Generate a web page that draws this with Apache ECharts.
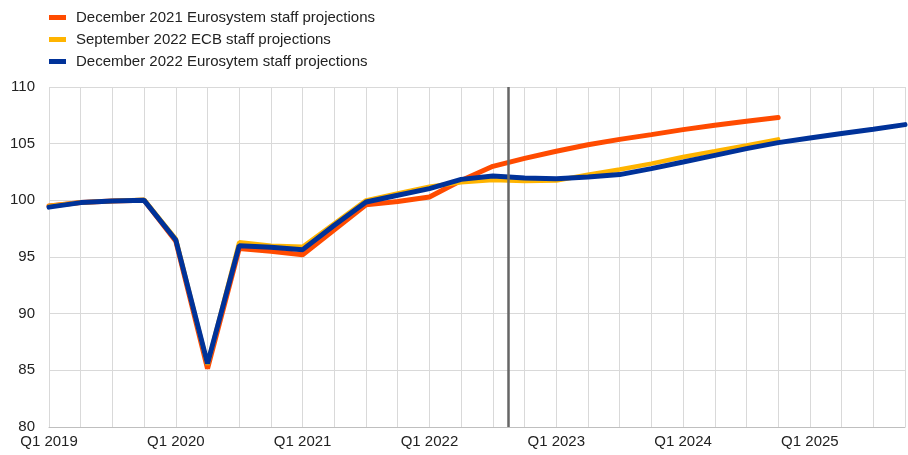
<!DOCTYPE html>
<html>
<head>
<meta charset="utf-8">
<script src="https://cdn.jsdelivr.net/npm/echarts@6/dist/echarts.min.js"></script>
<style>
  html, body { margin: 0; padding: 0; background: #fff; }
  #myChart { width: 908px; height: 455px; }
</style>
</head>
<body>
<div id="myChart"></div>
<script>
// quarters on the x axis
var quarters = [
    'Q1 2019', 'Q2 2019', 'Q3 2019', 'Q4 2019',
    'Q1 2020', 'Q2 2020', 'Q3 2020', 'Q4 2020',
    'Q1 2021', 'Q2 2021', 'Q3 2021', 'Q4 2021',
    'Q1 2022', 'Q2 2022', 'Q3 2022', 'Q4 2022',
    'Q1 2023', 'Q2 2023', 'Q3 2023', 'Q4 2023',
    'Q1 2024', 'Q2 2024', 'Q3 2024', 'Q4 2024',
    'Q1 2025', 'Q2 2025', 'Q3 2025', 'Q4 2025'
];

var seriesNames = [
    'December 2021 Eurosystem staff projections',
    'September 2022 ECB staff projections',
    'December 2022 Eurosytem staff projections'
];

var dec2021 = [99.5, 99.8, 99.95, 100.0, 96.4, 85.15, 95.75, 95.5, 95.2, 97.4, 99.6, 99.9,
    100.3, 101.75, 103.0, 103.7, 104.33, 104.9, 105.38, 105.8, 106.24, 106.62, 106.97, 107.3];
var sep2022 = [99.5, 99.8, 99.95, 100.05, 96.6, 85.5, 96.3, 96.0, 95.9, 97.95, 100.0, 100.6,
    101.2, 101.6, 101.8, 101.7, 101.75, 102.25, 102.72, 103.24, 103.82, 104.33, 104.85, 105.38];
var dec2022 = [99.4, 99.8, 99.95, 100.0, 96.5, 85.6, 96.0, 95.85, 95.65, 97.8, 99.85, 100.45,
    101.03, 101.85, 102.15, 101.97, 101.9, 102.05, 102.27, 102.8, 103.38, 103.97, 104.56, 105.09,
    105.5, 105.89, 106.27, 106.68];

// projection cut-off, between Q3 and Q4 2022
var cutOff = 14.5;

var colors = ['#ff4b00', '#ffb400', '#003299'];

function toPairs(arr) {
    return arr.map(function (v, i) { return [i, v]; });
}

var myChart = echarts.init(document.getElementById('myChart'));

var font = "'Liberation Sans', Arial, sans-serif";

var option = {
    animation: false,
    textStyle: { fontFamily: font },
    legend: {
        orient: 'vertical',
        left: 49,
        top: 10,
        padding: 0,
        icon: 'rect',
        itemWidth: 17,
        itemHeight: 5,
        itemGap: 7,
        textStyle: { fontSize: 15, color: '#222', fontFamily: font, lineHeight: 15, padding: [0, 0, 0, 5] },
        data: seriesNames
    },
    grid: {
        left: 49,
        right: 0,
        top: 87,
        bottom: 28
    },
    xAxis: {
        type: 'value',
        min: 0,
        max: quarters.length - 1,
        interval: 1,
        axisLine: { show: true, lineStyle: { color: '#bfbfbf', width: 1 } },
        axisTick: { show: false },
        splitLine: { show: true, lineStyle: { color: '#d9d9d9', width: 1 } },
        axisLabel: {
            margin: 7,
            fontSize: 15,
            color: '#222',
            fontFamily: font,
            formatter: function (v) {
                return v % 4 === 0 ? quarters[v] : '';
            }
        }
    },
    yAxis: {
        type: 'value',
        min: 80,
        max: 110,
        interval: 5,
        axisLine: { show: false },
        axisTick: { show: false },
        splitLine: { lineStyle: { color: '#d9d9d9', width: 1 } },
        axisLabel: { margin: 14, fontSize: 15, color: '#222', fontFamily: font }
    },
    series: [{
        name: seriesNames[0],
        type: 'line',
        data: toPairs(dec2021),
        showSymbol: false,
        color: colors[0],
        lineStyle: { color: colors[0], width: 5, cap: 'round' },
        markLine: {
            silent: true,
            symbol: 'none',
            label: { show: false },
            lineStyle: { color: '#666666', width: 2.5, type: 'solid' },
            data: [{ xAxis: cutOff }]
        }
    }, {
        name: seriesNames[1],
        type: 'line',
        data: toPairs(sep2022),
        showSymbol: false,
        color: colors[1],
        lineStyle: { color: colors[1], width: 4.5, cap: 'round' }
    }, {
        name: seriesNames[2],
        type: 'line',
        data: toPairs(dec2022),
        showSymbol: false,
        color: colors[2],
        lineStyle: { color: colors[2], width: 5, cap: 'round' }
    }]
};

myChart.setOption(option);
</script>
</body>
</html>
